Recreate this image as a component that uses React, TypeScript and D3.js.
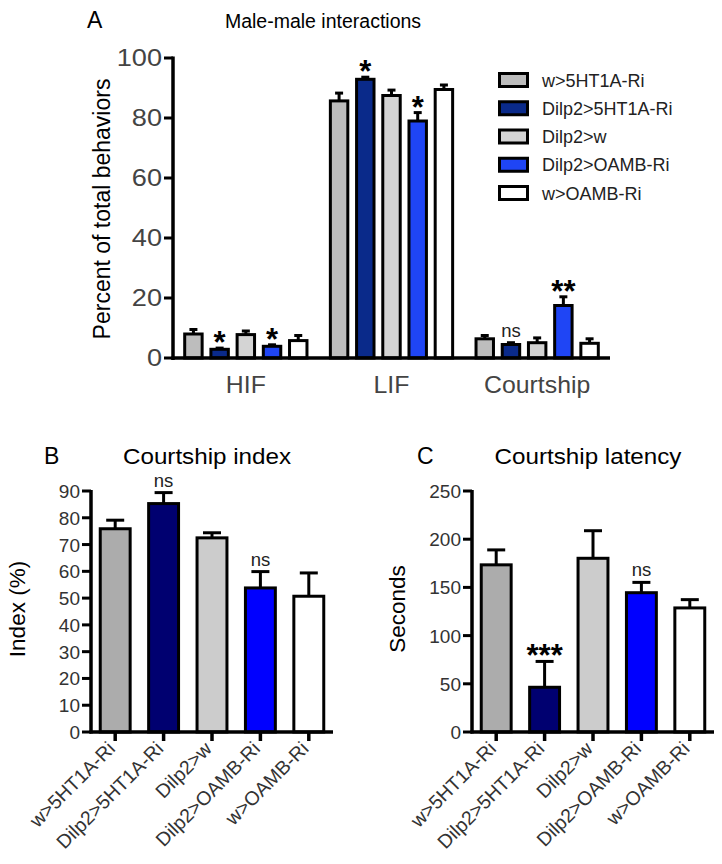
import React from "react";
import * as d3 from "d3";

const genotypes = ["w>5HT1A-Ri", "Dilp2>5HT1A-Ri", "Dilp2>w", "Dilp2>OAMB-Ri", "w>OAMB-Ri"];
const groupsA = ["HIF", "LIF", "Courtship"];

// Panel A (percent of total behaviors), one array per behaviour group, in genotype order
const hifMeans = [8.0, 2.9, 7.8, 3.9, 5.8];
const hifErr = [1.5, 0.4, 1.2, 0.5, 1.7];
const lifMeans = [85.7, 92.9, 87.5, 79.0, 89.5];
const lifErr = [2.6, 0.7, 1.8, 2.8, 1.5];
const courtMeans = [6.4, 4.5, 5.1, 17.5, 4.9];
const courtErr = [1.1, 0.6, 1.6, 2.9, 1.5];
const hifSig = ["", "*", "", "*", ""];
const lifSig = ["", "*", "", "*", ""];
const courtSig = ["", "ns", "", "**", ""];
const ticksA = [0, 20, 40, 60, 80, 100];

// Panel B (courtship index)
const indexMeans = [75.9, 85.3, 72.5, 53.8, 50.7];
const indexErr = [3.2, 4.1, 1.9, 6.1, 8.7];
const indexSig = ["", "ns", "", "ns", ""];
const ticksB = [0, 10, 20, 30, 40, 50, 60, 70, 80, 90];

// Panel C (courtship latency)
const latencyMeans = [173.4, 46.4, 180.2, 144.5, 128.7];
const latencyErr = [15.5, 26.8, 28.6, 10.7, 8.6];
const latencySig = ["", "***", "", "ns", ""];
const ticksC = [0, 50, 100, 150, 200, 250];

const colorsA = ["#bdbdbd", "#0a2a8a", "#d4d4d4", "#1f45f5", "#ffffff"];
const colorsBC = ["#acacac", "#000070", "#cccccc", "#0000ff", "#ffffff"];

const FONT = "'Liberation Sans', Arial, Helvetica, sans-serif";

function SText({ x, y, sx = 1, size, anchor = "start", fill = "#000", weight = "normal", children }: any) {
  return (
    <text
      transform={`translate(${x},${y}) scale(${sx},1)`}
      fontSize={size}
      textAnchor={anchor}
      fill={fill}
      fontWeight={weight}
      fontFamily={FONT}
    >
      {children}
    </text>
  );
}

function Annotation({ x, errTop, label }: { x: number; errTop: number; label: string }) {
  if (!label) return null;
  if (label === "ns") {
    return (
      <SText x={x} y={errTop - 6} size={18.5} anchor="middle" fill="#222">
        ns
      </SText>
    );
  }
  return (
    <SText x={x} y={errTop + 5} size={31} anchor="middle" weight="bold">
      {label}
    </SText>
  );
}

function PanelA() {
  const y = d3.scaleLinear().domain([0, 100]).range([358, 58]);
  const x0 = d3.scaleBand().domain(groupsA).range([173, 610]).paddingInner(0.14).paddingOuter(0.07);
  const x1 = d3.scaleBand().domain(genotypes).range([0, x0.bandwidth()]).paddingInner(0.22);
  const means = [hifMeans, lifMeans, courtMeans];
  const errs = [hifErr, lifErr, courtErr];
  const sigs = [hifSig, lifSig, courtSig];
  const sw = 3;
  const legendY = d3.scalePoint().domain(genotypes).range([80, 193]);
  return (
    <g>
      <SText x={87} y={28} size={23}>A</SText>
      <SText x={323} y={28} size={19.5} anchor="middle">Male-male interactions</SText>
      <text
        transform={`translate(110,209) rotate(-90)`}
        fontSize={23}
        textAnchor="middle"
        fontFamily={FONT}
        fill="#000"
      >
        Percent of total behaviors
      </text>
      {groupsA.map((g, gi) => (
        <g key={g}>
          {genotypes.map((gt, i) => {
            const bx = (x0(g) as number) + (x1(gt) as number);
            const bw = x1.bandwidth();
            const m = means[gi][i];
            const e = errs[gi][i];
            const cx = bx + bw / 2;
            return (
              <g key={gt}>
                <line x1={cx} x2={cx} y1={y(m)} y2={y(m + e)} stroke="#000" strokeWidth={3} />
                <line x1={cx - 4} x2={cx + 4} y1={y(m + e)} y2={y(m + e)} stroke="#000" strokeWidth={3} />
                <rect
                  x={bx + sw / 2}
                  y={y(m)}
                  width={bw - sw}
                  height={y(0) - y(m)}
                  fill={colorsA[i]}
                  stroke="#000"
                  strokeWidth={sw}
                />
                <Annotation x={cx} errTop={y(m + e)} label={sigs[gi][i]} />
              </g>
            );
          })}
          <SText x={(x0(g) as number) + x0.bandwidth() / 2} y={392.5} size={23} sx={1.08} anchor="middle" fill="#444">
            {g}
          </SText>
        </g>
      ))}
      <line x1={173} x2={173} y1={56.5} y2={360} stroke="#000" strokeWidth={3.5} />
      <line x1={171.5} x2={610} y1={358} y2={358} stroke="#000" strokeWidth={3.5} />
      {ticksA.map((t) => (
        <g key={t}>
          <line x1={164} x2={173} y1={y(t)} y2={y(t)} stroke="#000" strokeWidth={3} />
          <SText x={162} y={y(t) + 8} size={23} sx={1.18} anchor="end" fill="#444">
            {t}
          </SText>
        </g>
      ))}
      {genotypes.map((gt, i) => (
        <g key={gt}>
          <rect
            x={499.5}
            y={(legendY(gt) as number) - 6.5}
            width={28}
            height={13}
            fill={colorsA[i]}
            stroke="#000"
            strokeWidth={3}
          />
          <SText x={542} y={(legendY(gt) as number) + 6.5} size={18} fill="#222">
            {gt}
          </SText>
        </g>
      ))}
    </g>
  );
}

function SmallPanel({
  letter,
  letterX,
  title,
  titleX,
  yTitle,
  yTitleX,
  axisX0,
  axisX1,
  domainMax,
  ticks,
  means,
  errs,
  sigs,
}: any) {
  const y = d3.scaleLinear().domain([0, domainMax]).range([732, 491]);
  const x = d3.scaleBand().domain(genotypes).range([axisX0, axisX1]).paddingInner(0.32).paddingOuter(0.16);
  const sw = 3;
  return (
    <g>
      <SText x={letterX} y={464} size={23}>{letter}</SText>
      <SText x={titleX} y={464} size={22} sx={1.1} anchor="middle">{title}</SText>
      <text
        transform={`translate(${yTitleX},609) rotate(-90)`}
        fontSize={22.5}
        textAnchor="middle"
        fontFamily={FONT}
        fill="#000"
      >
        {yTitle}
      </text>
      {genotypes.map((gt, i) => {
        const bx = x(gt) as number;
        const bw = x.bandwidth();
        const cx = bx + bw / 2;
        const m = means[i];
        const e = errs[i];
        return (
          <g key={gt}>
            <line x1={cx} x2={cx} y1={y(m)} y2={y(m + e)} stroke="#000" strokeWidth={3} />
            <line x1={cx - 9} x2={cx + 9} y1={y(m + e)} y2={y(m + e)} stroke="#000" strokeWidth={3} />
            <rect
              x={bx + sw / 2}
              y={y(m)}
              width={bw - sw}
              height={y(0) - y(m)}
              fill={colorsBC[i]}
              stroke="#000"
              strokeWidth={sw}
            />
            <Annotation x={cx} errTop={y(m + e)} label={sigs[i]} />
            <line x1={cx} x2={cx} y1={732} y2={741} stroke="#000" strokeWidth={3.5} />
            <text
              transform={`translate(${cx + 1},750) rotate(-45)`}
              fontSize={19.5}
              textAnchor="end"
              fontFamily={FONT}
              fill="#333"
            >
              {gt}
            </text>
          </g>
        );
      })}
      <line x1={axisX0} x2={axisX0} y1={490} y2={733.5} stroke="#000" strokeWidth={3.5} />
      <line x1={axisX0 - 1.5} x2={axisX1} y1={732} y2={732} stroke="#000" strokeWidth={3.5} />
      {ticks.map((t: number) => (
        <g key={t}>
          <line x1={axisX0 - 9} x2={axisX0} y1={y(t)} y2={y(t)} stroke="#000" strokeWidth={3} />
          <SText x={axisX0 - 11} y={y(t) + 7} size={19} anchor="end" fill="#333">
            {t}
          </SText>
        </g>
      ))}
    </g>
  );
}

export default function App() {
  return (
    <svg
      width={722}
      height={864}
      viewBox="0 0 722 864"
      style={{ position: "absolute", left: 0, top: 0, background: "#fff" }}
    >
      <rect x={0} y={0} width={722} height={864} fill="#fff" />
      <PanelA />
      <SmallPanel
        letter="B"
        letterX={44}
        title="Courtship index"
        titleX={207}
        yTitle="Index (%)"
        yTitleX={25}
        axisX0={91}
        axisX1={333}
        domainMax={90}
        ticks={ticksB}
        means={indexMeans}
        errs={indexErr}
        sigs={indexSig}
      />
      <SmallPanel
        letter="C"
        letterX={417}
        title="Courtship latency"
        titleX={588}
        yTitle="Seconds"
        yTitleX={405}
        axisX0={472}
        axisX1={714}
        domainMax={250}
        ticks={ticksC}
        means={latencyMeans}
        errs={latencyErr}
        sigs={latencySig}
      />
    </svg>
  );
}
